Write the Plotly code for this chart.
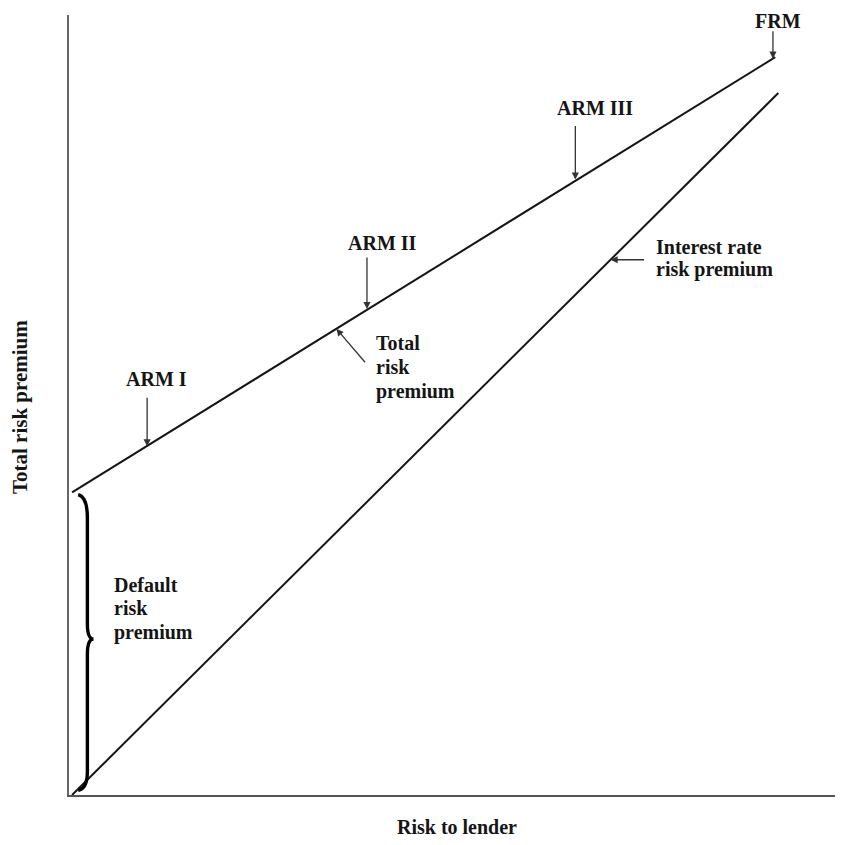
import plotly.graph_objects as go

# ---- data (axis units 0-100) ----
total_x = [0.4, 92.2]
total_y = [38.8, 94.6]
rate_x = [0.4, 92.6]
rate_y = [0.0, 90.0]

products = ["ARM I", "ARM II", "ARM III", "FRM"]
product_risk = [10.2, 38.9, 66.1, 91.9]
product_premium = [44.7, 62.3, 78.9, 94.4]

FONT = "Liberation Serif, Times New Roman, serif"
INK = "#151515"
FS = 20

fig = go.Figure()
fig.add_trace(go.Scatter(x=total_x, y=total_y, mode="lines",
                         line=dict(color=INK, width=2), hoverinfo="skip",
                         showlegend=False))
fig.add_trace(go.Scatter(x=rate_x, y=rate_y, mode="lines",
                         line=dict(color=INK, width=2), hoverinfo="skip",
                         showlegend=False))

ann = []
# product labels with vertical arrows
label_shift = [(9, 67), (16, 66), (20, 72), (5, 38)]
arrow_len = [50, 53, 55, 29]
for name, xv, yv, (dx, dy), L in zip(products, product_risk, product_premium,
                                      label_shift, arrow_len):
    ann.append(dict(x=xv, y=yv, text="", showarrow=True, ax=0, ay=-L,
                    arrowhead=2, arrowsize=1.1, arrowwidth=1.3,
                    arrowcolor="#333"))
    ann.append(dict(x=xv, y=yv, text="<b>%s</b>" % name, showarrow=False,
                    xshift=dx, yshift=dy,
                    font=dict(family=FONT, size=FS, color=INK)))


def block(xv, yv, lines, dx, dys):
    for t, dy in zip(lines, dys):
        ann.append(dict(x=xv, y=yv, text="<b>%s</b>" % t, showarrow=False,
                        xanchor="left", yanchor="middle", xshift=dx, yshift=dy,
                        font=dict(family=FONT, size=FS, color=INK)))


# Total risk premium pointer
tx = 34.9
ty = total_y[0] + (tx - total_x[0]) * (total_y[1] - total_y[0]) / (total_x[1] - total_x[0])
ann.append(dict(x=tx, y=ty, text="", showarrow=True, ax=30, ay=35,
                arrowhead=2, arrowsize=1.1, arrowwidth=1.3, arrowcolor="#333"))
block(tx, ty, ["Total", "risk", "premium"], 38, [-14, -38, -63])

# Interest rate risk premium pointer
rx = 70.7
ry = rate_y[0] + (rx - rate_x[0]) * (rate_y[1] - rate_y[0]) / (rate_x[1] - rate_x[0])
ann.append(dict(x=rx, y=ry, text="", showarrow=True, ax=35, ay=0,
                arrowhead=2, arrowsize=1.1, arrowwidth=1.3, arrowcolor="#333"))
block(rx, ry, ["Interest rate", "risk premium"], 43, [13, -10])

# Default risk premium label
block(5.6, total_y[0] / 2, ["Default", "risk", "premium"], 0, [59, 36, 11])

# axis titles
ann.append(dict(xref="paper", yref="paper", x=-0.063, y=0.497,
                xanchor="center", yanchor="middle",
                text="<b>Total risk premium</b>", textangle=-90, showarrow=False,
                font=dict(family=FONT, size=21, color=INK)))
ann.append(dict(xref="paper", yref="paper", x=0.507, y=-0.025,
                text="<b>Risk to lender</b>", showarrow=False, yanchor="top",
                font=dict(family=FONT, size=FS, color=INK)))

# brace for default risk premium
top = total_y[0] - 0.3
mid = total_y[0] / 2 + 0.6
x0, x1, xm = 1.2, 2.4, 3.2
brace = (f"M {x0},{top} Q {x1},{top-0.3} {x1},{top-3} "
         f"L {x1},{mid+2} Q {x1},{mid} {xm},{mid} "
         f"Q {x1},{mid} {x1},{mid-2} L {x1},3 Q {x1},0.8 {x0},0.6")
shapes = [dict(type="path", path=brace, xref="x", yref="y",
               line=dict(color="#000", width=3.4))]

fig.update_layout(
    width=837, height=837,
    margin=dict(l=61, r=10, t=7, b=50),
    paper_bgcolor="white", plot_bgcolor="white",
    annotations=ann, shapes=shapes,
    xaxis=dict(range=[0, 100], showgrid=False, zeroline=False,
               showticklabels=False, ticks="", showline=True,
               linecolor="#555", linewidth=1.5),
    yaxis=dict(range=[0, 100], showgrid=False, zeroline=False,
               showticklabels=False, ticks="", showline=True,
               linecolor="#666", linewidth=1.5),
)

fig.write_html("out.html")
